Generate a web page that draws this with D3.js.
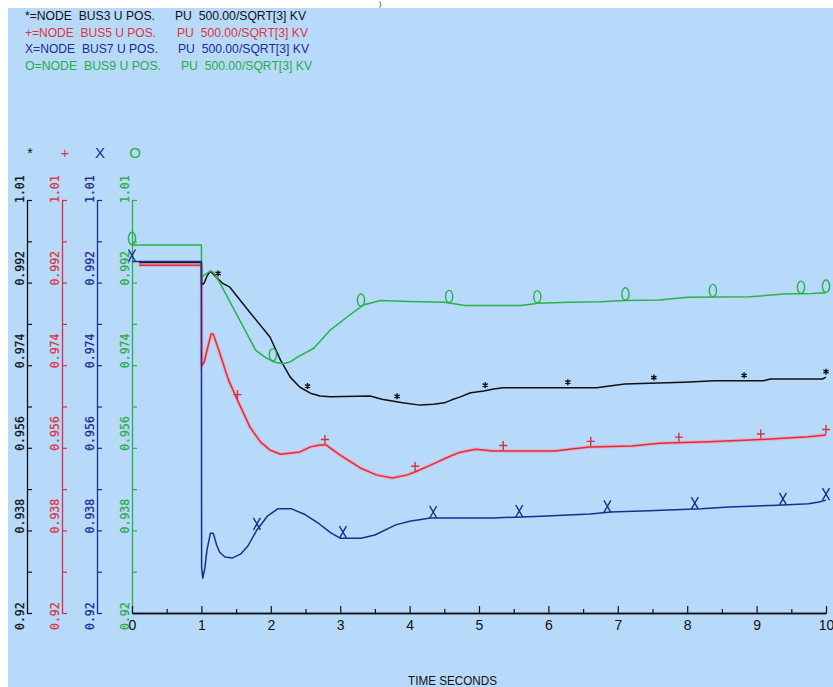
<!DOCTYPE html>
<html><head><meta charset="utf-8">
<script src="https://cdn.jsdelivr.net/npm/d3@7"></script>
<style>
html,body{margin:0;padding:0;background:#fff;overflow:hidden;}
svg{display:block;}
</style></head><body>
<script>
// ---------- data ----------
const timeTicks = [0,1,2,3,4,5,6,7,8,9,10];
const timeMinorTicks = [0.5,1.5,2.5,3.5,4.5,5.5,6.5,7.5,8.5,9.5];
const voltTicks = [0.92,0.929,0.938,0.947,0.956,0.965,0.974,0.983,0.992,1.001,1.01];
const voltLabelValues = [0.92,0.938,0.956,0.974,0.992,1.01];
const voltLabels = ["0.92","0.938","0.956","0.974","0.992","1.01"];
const seriesSymbols = ["*","+","X","O"];
const legendNames = ["*=NODE  BUS3 U POS.","+=NODE  BUS5 U POS.","X=NODE  BUS7 U POS.","O=NODE  BUS9 U POS."];
const legendUnits = ["PU  500.00/SQRT[3] KV","PU  500.00/SQRT[3] KV","PU  500.00/SQRT[3] KV","PU  500.00/SQRT[3] KV"];
const xTitle = "TIME SECONDS";

const bus3 = [[0.1,0.9964],[1.0,0.9964],[1.003,0.9915],[1.04,0.9919],[1.08,0.9934],[1.13,0.9945],[1.2,0.9934],[1.3,0.9919],[1.41,0.9910],[1.7,0.9855],[1.99,0.9801],[2.14,0.9751],[2.28,0.9714],[2.42,0.9692],[2.57,0.9679],[2.71,0.9673],[2.86,0.9671],[3.43,0.9673],[3.6,0.9666],[3.9,0.9658],[4.15,0.9653],[4.35,0.9655],[4.5,0.9658],[4.6,0.9664],[4.73,0.9671],[4.88,0.9680],[5.07,0.9684],[5.21,0.9688],[5.35,0.9691],[6.7,0.9691],[6.8,0.9693],[7.1,0.9699],[7.95,0.9703],[8.4,0.9706],[9.1,0.9706],[9.2,0.9710],[9.95,0.9710],[10,0.9714]];
const bus5 = [[0.1,0.9958],[1.0,0.9958],[1.003,0.9738],[1.04,0.9747],[1.1,0.9784],[1.14,0.9808],[1.17,0.9808],[1.25,0.9773],[1.39,0.9708],[1.52,0.9664],[1.70,0.9605],[1.85,0.9573],[1.99,0.9555],[2.14,0.9546],[2.42,0.9551],[2.57,0.9562],[2.71,0.9566],[2.80,0.9566],[3.0,0.9544],[3.29,0.9516],[3.52,0.9501],[3.75,0.9494],[3.97,0.9501],[4.1,0.9509],[4.27,0.9520],[4.5,0.9536],[4.7,0.9549],[4.95,0.9557],[5.2,0.9553],[6.1,0.9553],[6.3,0.9557],[6.6,0.9562],[7.2,0.9564],[7.6,0.9570],[8.3,0.9573],[8.9,0.9577],[9.2,0.9579],[9.75,0.9584],[10,0.9588]];
const bus7 = [[0,0.9966],[1.0,0.9966],[1.003,0.9300],[1.02,0.9276],[1.05,0.9298],[1.08,0.9337],[1.13,0.9374],[1.17,0.9374],[1.22,0.9348],[1.26,0.9333],[1.34,0.9322],[1.45,0.9320],[1.57,0.9329],[1.67,0.9346],[1.8,0.9381],[1.95,0.9411],[2.1,0.9427],[2.3,0.9427],[2.5,0.9414],[2.7,0.9394],[2.87,0.9374],[3.0,0.9363],[3.3,0.9363],[3.5,0.9370],[3.8,0.9392],[4.0,0.9400],[4.3,0.9407],[5.2,0.9407],[5.9,0.9411],[6.6,0.9416],[6.9,0.9420],[7.45,0.9423],[8.2,0.9427],[8.6,0.9431],[9.3,0.9435],[9.75,0.9438],[9.9,0.9442],[10,0.9446]];
const bus9 = [[0,1.0002],[1.0,1.0002],[1.003,0.9930],[1.04,0.9937],[1.13,0.9945],[1.17,0.9943],[1.26,0.9921],[1.56,0.9836],[1.78,0.9773],[1.93,0.9756],[2.05,0.9747],[2.17,0.9743],[2.28,0.9747],[2.39,0.9758],[2.62,0.9777],[2.86,0.9817],[3.10,0.9845],[3.33,0.9871],[3.58,0.9881],[4.0,0.9879],[4.5,0.9877],[4.8,0.9870],[5.6,0.9870],[5.85,0.9875],[6.3,0.9877],[6.75,0.9878],[7.1,0.9881],[7.6,0.9882],[8.0,0.9888],[8.9,0.9889],[9.4,0.9895],[9.8,0.9896],[10,0.9898]];

const bus3Marks = [1.24,2.53,3.82,5.09,6.28,7.52,8.82,10.0];
const bus5Marks = [1.52,2.78,4.08,5.35,6.61,7.88,9.06,10.0];
const bus7Marks = [0,1.80,3.04,4.34,5.58,6.85,8.11,9.38,10.0];
const bus9Marks = [0,2.03,3.30,4.57,5.84,7.11,8.37,9.64,10.0];

// ---------- styling ----------
const W = 833, H = 687;
const colors = ["#111111","#d8303e","#1d2c8e","#2bb14a"];
const textColors = ["#111111","#e0333f","#1d2c8e","#28ad45"];
const axisX = [27,62,97,132];

const svg = d3.select("body").append("svg").attr("width",W).attr("height",H);
svg.append("rect").attr("width",W).attr("height",H).attr("fill","#ffffff");
svg.append("rect").attr("x",8).attr("y",8).attr("width",W-8).attr("height",H-8).attr("fill","#b7d9fa");
svg.append("text").attr("x",379).attr("y",6).attr("font-family","Liberation Sans, Arial, sans-serif")
  .attr("font-size",7).attr("fill","#222").text(")");

const x = d3.scaleLinear().domain([0,10]).range([132,826]);
const y = d3.scaleLinear().domain([0.92,1.01]).range([613,200]);

// legend
const legendBase = [20,36.5,53,69.5];
const nameLen = [130,131,133,136];
const unitX = [175,177,178,181];
legendNames.forEach((n,i)=>{
  svg.append("text").attr("x",25).attr("y",legendBase[i]).attr("fill",textColors[i])
    .attr("font-family","Liberation Sans, Arial, sans-serif").attr("font-size",13.5)
    .attr("textLength",nameLen[i]).attr("lengthAdjust","spacingAndGlyphs").style("white-space","pre").text(n);
  svg.append("text").attr("x",unitX[i]).attr("y",legendBase[i]).attr("fill",textColors[i])
    .attr("font-family","Liberation Sans, Arial, sans-serif").attr("font-size",13.5)
    .attr("textLength",131).attr("lengthAdjust","spacingAndGlyphs").style("white-space","pre").text(legendUnits[i]);
});

// y axes
seriesSymbols.forEach((s,i)=>{
  const g = svg.append("g").attr("transform",`translate(${axisX[i]},0)`);
  g.call(d3.axisRight(y).tickValues(voltTicks).tickSize(5).tickSizeOuter(0).tickFormat(""));
  g.select(".domain").attr("stroke",colors[i]).attr("stroke-width",1.3);
  g.selectAll(".tick line").attr("stroke",colors[i]).attr("stroke-width",1.2);
  voltLabelValues.forEach((v,j)=>{
    const off = j===0 ? 17 : 3;
    g.append("text").attr("transform",`translate(-3,${y(v)+off}) rotate(-90)`)
      .attr("font-family","DejaVu Sans Mono, monospace").attr("font-size",11.5)
      .attr("stroke",textColors[i]).attr("stroke-width",0.25)
      .attr("fill",textColors[i]).attr("text-anchor","start").text(voltLabels[j]);
  });
  svg.append("text").attr("x",axisX[i]+3).attr("y",158).attr("text-anchor","middle")
    .attr("font-family","Liberation Sans Narrow, Liberation Sans, Arial, sans-serif")
    .attr("font-size", s==="*"?14:15).attr("fill",textColors[i]).text(s);
});

// x axis
const gx = svg.append("g").attr("transform",`translate(0,${y(0.92)})`);
gx.call(d3.axisBottom(x).tickValues(timeMinorTicks).tickSize(-4).tickSizeOuter(0).tickFormat(""));
const gx2 = svg.append("g").attr("transform",`translate(0,${y(0.92)})`);
gx2.call(d3.axisBottom(x).tickValues(timeTicks).tickSize(-7).tickSizeOuter(0).tickPadding(7).tickFormat(d3.format("d")));
[gx,gx2].forEach(g=>{
  g.select(".domain").attr("stroke","#111").attr("stroke-width",1.3);
  g.selectAll(".tick line").attr("stroke","#111").attr("stroke-width",1.2);
});
gx2.selectAll(".tick text").attr("fill","#111").attr("font-size",14)
  .attr("font-family","Liberation Sans Narrow, Liberation Sans, Arial, sans-serif");
svg.append("text").attr("x",408).attr("y",685).attr("fill","#111")
  .attr("font-family","Liberation Sans, Arial, sans-serif").attr("font-size",13.5)
  .attr("textLength",89).attr("lengthAdjust","spacingAndGlyphs").text(xTitle);

// lines
const line = d3.line().x(d=>x(d[0])).y(d=>y(d[1]));
const series = [bus3,bus5,bus9,bus7];
const seriesColor = [colors[0],colors[1],colors[3],colors[2]];
svg.append("path").datum(bus5).attr("d",line).attr("fill","none").attr("stroke","#f2a3b3").attr("stroke-width",3.6).attr("stroke-opacity",0.8);
series.forEach((s,i)=>{
  svg.append("path").datum(s).attr("d",line).attr("fill","none")
    .attr("stroke",seriesColor[i]).attr("stroke-width",1.5).attr("stroke-linejoin","round");
});

// markers
const bis = d3.bisector(d=>d[0]).left;
function valueAt(data,t){
  const i = Math.max(1, Math.min(data.length-1, bis(data,t)));
  const a = data[i-1], b = data[i];
  const k = (t-a[0])/(b[0]-a[0]);
  return a[1] + Math.max(0,Math.min(1,k))*(b[1]-a[1]);
}
const markerPaths = {
  "*":"M0,-8.5L0,-2.5M-2.6,-7L2.6,-4M2.6,-7L-2.6,-4",
  "+":"M0,-10L0,-1M-4,-5.5L4,-5.5",
  "X":"M-3.5,-12L3.5,0M3.5,-12L-3.5,0",
  "O":"M-3.6,-6.5A3.6,6.2 0 1,0 3.6,-6.5A3.6,6.2 0 1,0 -3.6,-6.5Z"
};
const markSets = [[bus3,bus3Marks,"*",colors[0]],[bus5,bus5Marks,"+",colors[1]],[bus7,bus7Marks,"X",colors[2]],[bus9,bus9Marks,"O",colors[3]]];
markSets.forEach(([data,times,sym,col])=>{
  svg.selectAll(null).data(times).enter().append("path")
    .attr("transform",t=>`translate(${x(t)},${y(valueAt(data,t))})`)
    .attr("d",markerPaths[sym]).attr("fill","none").attr("stroke",col).attr("stroke-width",1.4);
});
</script>
</body></html>
